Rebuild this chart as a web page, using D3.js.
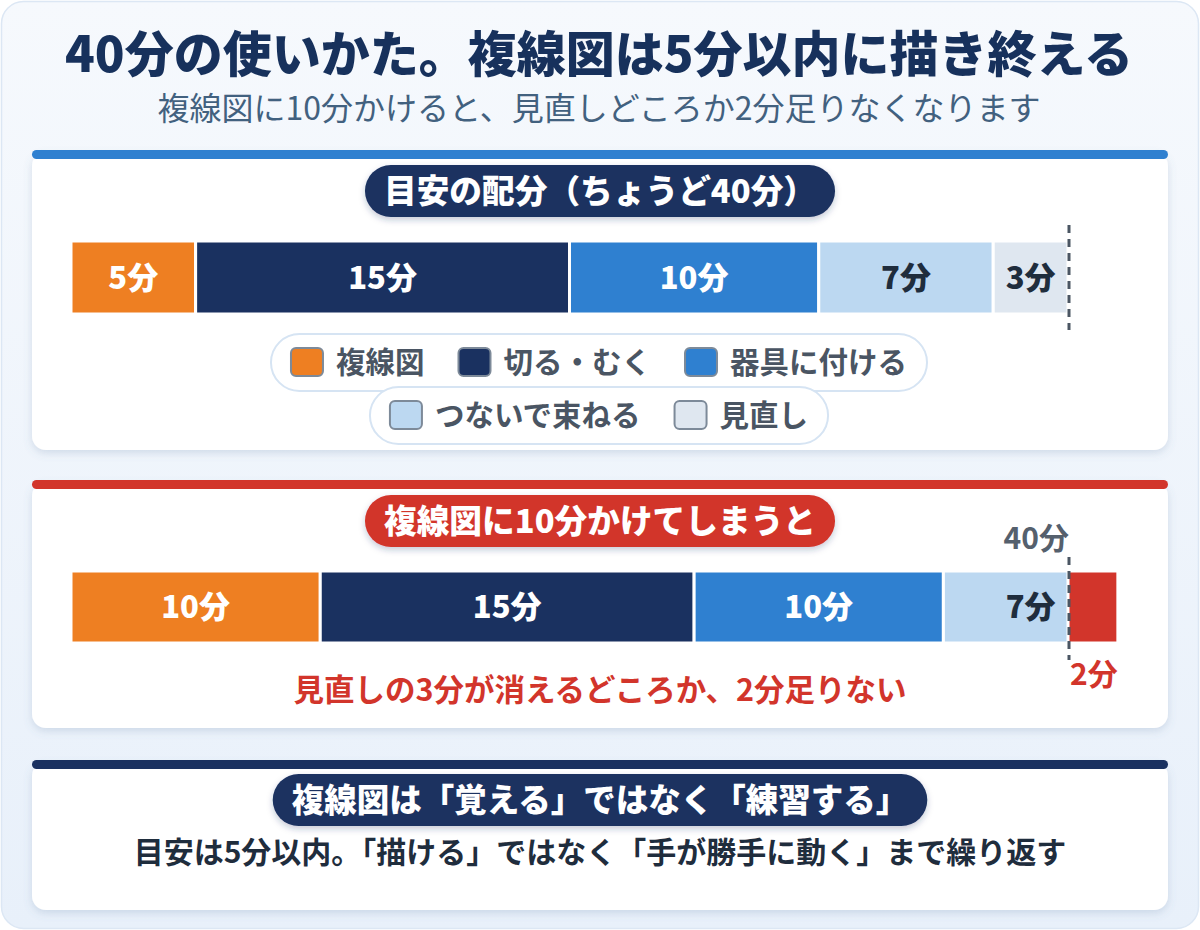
<!DOCTYPE html>
<html><head><meta charset="utf-8">
<script src="https://cdn.jsdelivr.net/npm/d3@7"></script>
<style>
html,body{margin:0;padding:0;background:#fff;}
svg{display:block;}
text{font-family:"Noto Sans CJK JP","Noto Sans",sans-serif;}
</style></head><body>
<svg id="c" width="1200" height="930"></svg>
<script>
// ---- data ----
const title = "40分の使いかた。複線図は5分以内に描き終える";
const subtitle = "複線図に10分かけると、見直しどころか2分足りなくなります";
const categories = ["複線図", "切る・むく", "器具に付ける", "つないで束ねる", "見直し"];
const colors = ["#ee7f22", "#1a3160", "#2f80d0", "#bcd8f1", "#dfe7f0"];
const labelColors = ["#ffffff", "#ffffff", "#ffffff", "#1f2d3d", "#1f2d3d"];
const planMinutes = [5, 15, 10, 7, 3];
const overMinutes = [10, 15, 10, 7];
const limitMinutes = 40;
const shortMinutes = 2;
const panel1Title = "目安の配分（ちょうど40分）";
const panel2Title = "複線図に10分かけてしまうと";
const panel2Note = "見直しの3分が消えるどころか、2分足りない";
const panel3Title = "複線図は「覚える」ではなく「練習する」";
const panel3Note = "目安は5分以内。「描ける」ではなく「手が勝手に動く」まで繰り返す";
const legendRows = [[0, 1, 2], [3, 4]];

const svg = d3.select("#c");
const defs = svg.append("defs");
const bg = defs.append("linearGradient").attr("id", "bg").attr("x1", 0).attr("y1", 0).attr("x2", 0).attr("y2", 1);
bg.append("stop").attr("offset", "0%").attr("stop-color", "#f6f9fd");
bg.append("stop").attr("offset", "100%").attr("stop-color", "#e8f0fa");
const sh = defs.append("filter").attr("id", "sh").attr("x", "-10%").attr("y", "-20%").attr("width", "120%").attr("height", "150%");
sh.append("feDropShadow").attr("dx", 0).attr("dy", 3).attr("stdDeviation", 4).attr("flood-color", "#5a7aa0").attr("flood-opacity", 0.22);
const sh2 = defs.append("filter").attr("id", "sh2").attr("x", "-10%").attr("y", "-30%").attr("width", "120%").attr("height", "170%");
sh2.append("feDropShadow").attr("dx", 0).attr("dy", 3).attr("stdDeviation", 3).attr("flood-color", "#1a3160").attr("flood-opacity", 0.25);

// outer card
svg.append("rect").attr("x", 1.5).attr("y", 1.5).attr("width", 1197).attr("height", 927).attr("rx", 22)
  .attr("fill", "url(#bg)").attr("stroke", "#dce7f4").attr("stroke-width", 1.5);

svg.append("text").attr("x", 599).attr("y", 72).attr("text-anchor", "middle")
  .attr("font-size", 49).attr("font-weight", 900).attr("fill", "#17315c").text(title);
svg.append("text").attr("x", 599).attr("y", 120).attr("text-anchor", "middle")
  .attr("font-size", 32).attr("font-weight", 400).attr("fill", "#42617f").text(subtitle);

const x = d3.scaleLinear().domain([0, limitMinutes]).range([71, 1068]);

function panel(y0, y1, barColor) {
  svg.append("rect").attr("x", 32).attr("y", y0).attr("width", 1136).attr("height", y1 - y0).attr("rx", 14)
    .attr("fill", "#fff").attr("filter", "url(#sh)");
  svg.append("rect").attr("x", 32).attr("y", y0 - 2).attr("width", 1136).attr("height", 9).attr("rx", 4.5)
    .attr("fill", barColor);
}
function pill(cx, cy, txt, fill, fs) {
  const g = svg.append("g");
  const r = g.append("rect").attr("fill", fill).attr("filter", "url(#sh2)");
  const t = g.append("text").attr("x", cx).attr("y", cy).attr("text-anchor", "middle").attr("dy", "0.36em")
    .attr("font-size", fs).attr("font-weight", 900).attr("fill", "#fff").text(txt);
  const w = t.node().getComputedTextLength() + 38;
  r.attr("x", cx - w / 2).attr("y", cy - 26).attr("width", w).attr("height", 52).attr("rx", 26);
}

// panel 1
panel(152, 450, "#2f80d0");
pill(600, 191, panel1Title, "#1a3160", 32.7);

function stack(vals) {
  let acc = 0;
  return vals.map((v, i) => { const s = acc; acc += v; return {i, v, s, e: acc}; });
}
const plan = stack(planMinutes);
const g1 = svg.append("g");
g1.selectAll("rect").data(plan).join("rect")
  .attr("x", d => x(d.s)).attr("y", 241).attr("width", d => x(d.e) - x(d.s)).attr("height", 73)
  .attr("fill", d => colors[d.i]).attr("stroke", "#fff").attr("stroke-width", 3);
g1.selectAll("text").data(plan).join("text")
  .attr("x", d => (x(d.s) + x(d.e)) / 2).attr("y", 278).attr("dy", "0.36em").attr("text-anchor", "middle")
  .attr("font-size", 31).attr("font-weight", 900).attr("fill", d => labelColors[d.i]).text(d => d.v + "分");
svg.append("line").attr("x1", x(limitMinutes) + 1).attr("x2", x(limitMinutes) + 1).attr("y1", 225).attr("y2", 330)
  .attr("stroke", "#4b5663").attr("stroke-width", 3).attr("stroke-dasharray", "8,6");

// legend
const legendY = [362, 415];
legendRows.forEach((row, ri) => {
  const g = svg.append("g");
  const bgR = g.append("rect").attr("fill", "#fff").attr("stroke", "#d6e4f3").attr("stroke-width", 2);
  let cx = 0;
  const items = [];
  row.forEach((ci, k) => {
    const ig = g.append("g");
    ig.append("rect").attr("x", 0).attr("y", -14).attr("width", 32).attr("height", 28).attr("rx", 5)
      .attr("fill", colors[ci]).attr("stroke", "#7d8a99").attr("stroke-width", 2);
    const t = ig.append("text").attr("x", 45).attr("y", 0).attr("dy", "0.36em").attr("font-size", 29.5)
      .attr("font-weight", 700).attr("fill", "#4a5563").text(categories[ci]);
    const w = 45 + t.node().getComputedTextLength();
    items.push({ig, off: cx});
    cx += w + (k < row.length - 1 ? 34 : 0);
  });
  const start = 599 - cx / 2;
  items.forEach(it => it.ig.attr("transform", `translate(${start + it.off},${legendY[ri]})`));
  bgR.attr("x", start - 20).attr("y", legendY[ri] - 28).attr("width", cx + 40).attr("height", 57).attr("rx", 28.5);
});

// panel 2
panel(482, 728, "#d2352b");
pill(600, 521, panel2Title, "#d2352b", 32.7);
const over = stack(overMinutes);
const g2 = svg.append("g");
g2.selectAll("rect").data(over).join("rect")
  .attr("x", d => x(d.s)).attr("y", 571).attr("width", d => x(d.e) - x(d.s)).attr("height", 72)
  .attr("fill", d => colors[d.i]).attr("stroke", "#fff").attr("stroke-width", 3);
g2.append("rect").attr("x", x(limitMinutes)).attr("y", 571).attr("width", x(limitMinutes + shortMinutes) - x(limitMinutes))
  .attr("height", 72).attr("fill", "#d2352b").attr("stroke", "#fff").attr("stroke-width", 3);
g2.selectAll("text.v").data(over).join("text").attr("class", "v")
  .attr("x", d => (x(d.s) + x(d.e)) / 2).attr("y", 607).attr("dy", "0.36em").attr("text-anchor", "middle")
  .attr("font-size", 31).attr("font-weight", 900).attr("fill", d => labelColors[d.i]).text(d => d.v + "分");
svg.append("line").attr("x1", x(limitMinutes) + 1).attr("x2", x(limitMinutes) + 1).attr("y1", 557).attr("y2", 660)
  .attr("stroke", "#4b5663").attr("stroke-width", 3).attr("stroke-dasharray", "8,6");
svg.append("text").attr("x", x(limitMinutes) + 1).attr("y", 538).attr("dy", "0.36em").attr("text-anchor", "end")
  .attr("font-size", 30).attr("font-weight", 700).attr("fill", "#55606d").text(limitMinutes + "分");
svg.append("text").attr("x", (x(limitMinutes) + x(limitMinutes + shortMinutes)) / 2 + 1).attr("y", 674).attr("dy", "0.36em")
  .attr("text-anchor", "middle").attr("font-size", 30).attr("font-weight", 700).attr("fill", "#d2352b").text(shortMinutes + "分");
svg.append("text").attr("x", 600).attr("y", 690).attr("dy", "0.36em").attr("text-anchor", "middle")
  .attr("font-size", 30.5).attr("font-weight", 700).attr("fill", "#d2352b").text(panel2Note);

// panel 3
panel(762, 910, "#1a3160");
pill(600, 800, panel3Title, "#1a3160", 32.5);
svg.append("text").attr("x", 600).attr("y", 852).attr("dy", "0.36em").attr("text-anchor", "middle")
  .attr("font-size", 30).attr("font-weight", 700).attr("fill", "#1f2d3d").text(panel3Note);
</script></body></html>
